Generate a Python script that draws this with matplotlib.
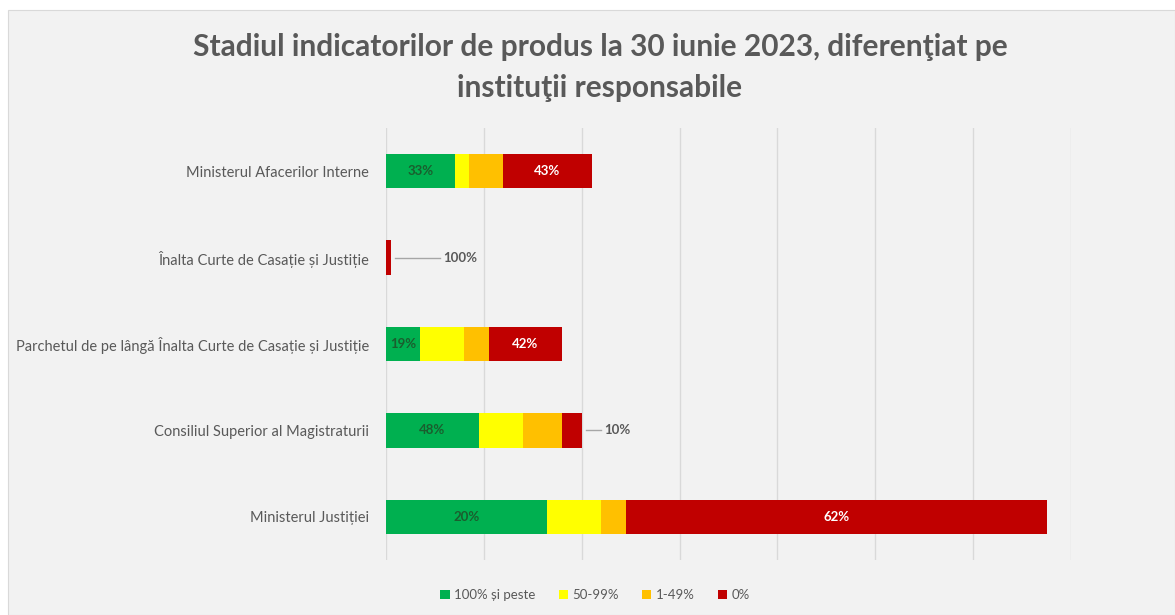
import matplotlib.pyplot as plt
from matplotlib.patches import Rectangle

# categories, top to bottom
institutii = ["Ministerul Afacerilor Interne",
              "Înalta Curte de Casație și Justiție",
              "Parchetul de pe lângă Înalta Curte de Casație și Justiție",
              "Consiliul Superior al Magistraturii",
              "Ministerul Justiției"]

# number of indicators per stage
peste_100 = [14, 0, 7, 19, 33]
intre_50_99 = [3, 0, 9, 9, 11]
intre_1_49 = [7, 0, 5, 8, 5]
zero = [18, 1, 15, 4, 86]

# labels shown on the chart
etichete_verde = ["33%", "", "19%", "48%", "20%"]
etichete_rosu = ["43%", "100%", "42%", "10%", "62%"]
# which red labels sit outside the bar
eticheta_afara = [False, True, False, True, False]

serii = ["100% și peste", "50-99%", "1-49%", "0%"]
culori = ["#00B050", "#FFFF00", "#FFC000", "#C00000"]

plt.rcParams['font.family'] = ['Lato', 'DejaVu Sans']

fig = plt.figure(figsize=(11.75, 6.15), dpi=100, facecolor="white")
# light grey chart area
fig.patches.append(Rectangle((8 / 1175, 0), 1 - 8 / 1175, 1 - 10 / 615,
                             transform=fig.transFigure, facecolor="#f2f2f2",
                             edgecolor="#d9d9d9", linewidth=0.8, zorder=-1))

ax = fig.add_axes([386 / 1175, 55 / 615, 685 / 1175, 432 / 615])
ax.set_facecolor("none")

y = list(range(len(institutii)))
stanga = [0] * len(institutii)
for valori, nume, culoare in zip([peste_100, intre_50_99, intre_1_49, zero], serii, culori):
    ax.barh(y, valori, left=stanga, height=0.4, color=culoare, label=nume, zorder=3)
    stanga = [s + v for s, v in zip(stanga, valori)]

# data labels
for i in y:
    if etichete_verde[i]:
        ax.text(peste_100[i] / 2, i, etichete_verde[i], ha="center", va="center",
                fontsize=9.5, fontweight="bold", color="#1a5e2e", zorder=4)
    start_rosu = peste_100[i] + intre_50_99[i] + intre_1_49[i]
    if eticheta_afara[i]:
        x_end = start_rosu + zero[i]
        lung = 10 if zero[i] < 2 else 4
        ax.plot([x_end + 0.8, x_end + lung], [i, i], color="#a6a6a6", linewidth=1, zorder=4)
        ax.text(x_end + lung + 0.6, i, etichete_rosu[i], ha="left", va="center",
                fontsize=9.5, fontweight="bold", color="#595959", zorder=4)
    else:
        ax.text(start_rosu + zero[i] / 2, i, etichete_rosu[i], ha="center", va="center",
                fontsize=9.5, fontweight="bold", color="white", zorder=4)

ax.set_xlim(0, 140)
ax.set_xticks(range(0, 141, 20))
ax.set_xticklabels([])
ax.set_ylim(len(institutii) - 0.5, -0.5)
ax.set_yticks(y)
ax.set_yticklabels(institutii, fontsize=10.5, color="#595959")
ax.tick_params(length=0, pad=12)
ax.grid(axis="x", color="#d9d9d9", linewidth=1, zorder=0)
for sp in ax.spines.values():
    sp.set_visible(False)

fig.text(600 / 1175, 1 - 47 / 615, "Stadiul indicatorilor de produs la 30 iunie 2023, diferenţiat pe",
         ha="center", va="center", fontsize=21.5, fontweight="bold", color="#595959")
fig.text(600 / 1175, 1 - 88 / 615, "instituţii responsabile",
         ha="center", va="center", fontsize=21.5, fontweight="bold", color="#595959")

leg = fig.legend(loc="center", bbox_to_anchor=(595 / 1175, 1 - 595 / 615), ncol=4,
                 frameon=False, fontsize=9.5, handlelength=0.7, handleheight=0.7,
                 handletextpad=0.3, columnspacing=1.8)
for t in leg.get_texts():
    t.set_color("#595959")

fig.savefig("out.png", dpi=100, facecolor=fig.get_facecolor())
